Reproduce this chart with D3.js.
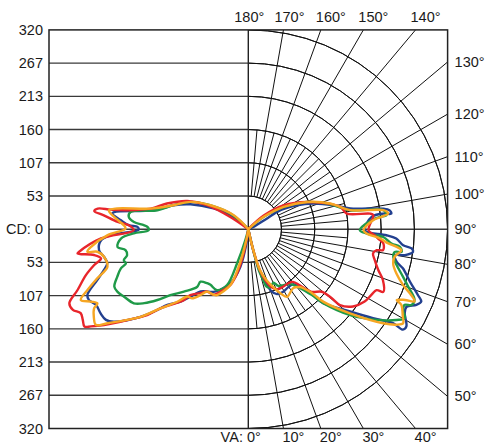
<!DOCTYPE html>
<html><head><meta charset="utf-8">
<script src="https://cdn.jsdelivr.net/npm/d3@7"></script>
<style>body{margin:0;background:#fff;} svg{display:block;}</style>
</head><body><svg id="c" width="485" height="446"></svg>
<script>
// ---------- data ----------
const cdMax = 320;
const cdTickLabels = ["53","107","160","213","267","320"];
const vaRightLabels = [130,120,110,100,90,80,70,60,50];
const vaTopLabels = [180,170,160,150,140];
const vaBottomLabels = [0,10,20,30,40];
const seriesColors = ["#23408f","#1f9a48","#e8252b","#f6a623"]; // blue, green, red, orange

// [vertical angle in degrees, candela] ; right half of the diagram
const blueRight = [[0,0],[13,35],[15,68],[17.8,89],[20.4,106],[23.8,114],[29.1,115],[34.6,113],[39,114],[41.9,125],[44.4,146],[45.4,169],[51,210],[54.5,246],[57,277],[57,296],[58.4,298],[61.8,285],[63.9,283],[65.8,296],[67.3,301],[68.8,292],[72,273],[75.8,256],[77.6,244],[80,239],[80.6,255],[82.2,267],[83.3,264],[84.1,250],[86.4,238],[87.5,222],[88.7,190],[90,187],[95.7,199],[96.6,218],[96.2,231],[97.6,229],[98.7,219],[101.5,167],[105.7,142],[111.5,112],[116.2,87],[120.7,60],[119.8,34],[113,9],[113,0]];
const greenRight = [[0,0],[13.4,35],[14.4,68],[16.4,85],[17.5,96],[20.6,100],[25.1,95],[27.8,103],[32.2,106],[37.4,111],[41.4,126],[44,147],[45.4,169],[49.9,214],[55.4,257],[58.5,279],[60.4,289],[62.5,280],[64.2,279],[65.1,289],[67,290],[70.2,273],[72.9,260],[76.4,245],[79.2,237],[81.2,238],[81.6,249],[83.4,245],[84.3,231],[86.7,217],[87.9,190],[89.5,179],[94.2,198],[95.3,212],[95.8,223],[98,219],[100.6,166],[107,137],[114.9,104],[122.3,67],[128.8,31],[130,0]];
const redRight = [[0,0],[13.4,35],[15.7,68],[18.4,86],[21.6,100],[25.8,107],[31.1,108],[36.5,108],[40.3,111],[42.6,123],[45.3,143],[49.6,155],[50.4,174],[50.4,191],[53.6,209],[58.1,220],[61.9,224],[64.6,228],[65.1,239],[69.3,231],[72.5,219],[76.3,209],[79,204],[80.7,209],[81.2,219],[84,218],[85.9,209],[87.3,203],[89.5,193],[96.4,202],[97.3,197],[99,160],[103.6,152],[114.9,104],[124.2,68],[131.4,33],[133,0]];
const orangeRight = [[0,0],[13.4,35],[15.9,68],[19.7,87],[23.3,101],[26.6,115],[29.8,125],[37.4,119],[41.9,125],[44.9,145],[46,168],[50.4,212],[55.1,264],[57.2,283],[58.7,291],[60.5,285],[63.7,274],[64.5,264],[65.7,276],[66.5,291],[68,282],[70.2,264],[73.4,248],[76.7,239],[79.3,239],[82.2,248],[83.2,240],[84.2,226],[86,212],[87.9,190],[89.5,185],[94.1,201],[95.3,215],[96.4,226],[98,219],[100.6,166],[107.4,138],[114.9,104],[122.3,67],[128.8,31],[135,0]];

// left half of the diagram
const blueLeft = [[0,0],[6.7,18],[12,62],[18.3,92],[24.7,107],[29,115],[37.4,126],[40.6,143],[43.1,159],[46.9,178],[48.4,195],[50.9,223],[55.5,262],[57.5,271],[60.3,273],[63.6,273],[66,280],[67.8,279],[71.4,256],[74.2,241],[76.4,233],[79.2,236],[82,242],[85.7,237],[87.5,221],[89.8,176],[91.2,178],[91.9,192],[94,205],[96.6,220],[97.3,217],[101.3,155],[107.8,126],[113.3,101],[120.8,65],[129.9,31],[135,0]];
const greenLeft = [[0,0],[15.3,18],[18.2,58],[20.8,96],[27.2,110],[34.2,108],[37.3,109],[42.3,114],[41.6,124],[45.9,144],[49.8,164],[52.1,185],[54.6,205],[57.1,219],[61.5,227],[64.5,233],[66.8,234],[70,224],[72.9,214],[74.4,204],[76,206],[77.9,199],[80.3,200],[82.3,212],[85.8,205],[87.9,184],[89.4,160],[91.3,162],[92.2,168],[93.6,184],[95.9,193],[98.3,191],[101.8,149],[107.8,126],[115.2,103],[121.2,77],[131.1,38],[135,0]];
const redLeft = [[0,0],[10.9,40],[14.3,73],[17.8,94],[24.1,110],[27.7,119],[33.4,120],[36.7,128],[41.3,141],[42.3,154],[45.7,174],[48,190],[49.7,213],[53.1,243],[56.4,278],[58.3,297],[59.3,306],[61.3,303],[63.4,301],[65.3,310],[67.5,311],[70.4,291],[74.2,271],[76.9,254],[78.8,241],[80.5,251],[81.9,277],[82.4,274],[86.4,237],[89.5,184],[91.9,192],[93.2,210],[95.5,233],[96.7,249],[97.8,244],[98.1,223],[98.9,197],[101.9,160],[107.5,137],[114.8,108],[120.2,77],[124.3,35],[130,0]];
const orangeLeft = [[0,0],[9.6,13],[14.4,62],[17.8,94],[25.4,117],[27.7,119],[33.4,120],[36,131],[39.1,143],[42.2,146],[44.4,163],[48,190],[50.9,223],[56.3,272],[57.9,289],[60.5,285],[62.9,278],[63.8,270],[65.3,278],[67.1,292],[69.3,276],[72,255],[75.1,234],[79.2,236],[81.5,245],[82,261],[83.6,254],[87.6,226],[90.3,197],[91.8,200],[95.2,216],[97.7,226],[99,213],[101.9,160],[107.8,126],[115.2,103],[122.3,72],[133.6,33],[138,0]];

const seriesRight = [blueRight, greenRight, redRight, orangeRight];
const seriesLeft = [blueLeft, greenLeft, redLeft, orangeLeft];

// ---------- drawing ----------
const cx = 248.3, cy = 229.2, R = 199.3;
const r = d3.scaleLinear().domain([0, cdMax]).range([0, R]);
const rad = d => d * Math.PI / 180;
const svg = d3.select("#c");
const font = "'Liberation Sans', Arial, sans-serif";
const gridStep = cdMax / 6;
const gridVals = d3.range(1, 7).map(i => i * gridStep);

svg.append("defs").append("clipPath").attr("id", "clipR")
  .append("rect").attr("x", cx).attr("y", cy - R).attr("width", R).attr("height", 2 * R);

const grid = svg.append("g");
// left horizontal lines
gridVals.slice(0, 5).forEach(v => {
  [-1, 1].forEach(s => {
    grid.append("line").attr("x1", cx - R).attr("x2", cx)
      .attr("y1", cy + s * r(v)).attr("y2", cy + s * r(v))
      .attr("stroke", "#3a3a3a").attr("stroke-width", 1.4);
  });
});
// CD 0 / 90° line
grid.append("line").attr("x1", cx - R).attr("x2", cx + R).attr("y1", cy).attr("y2", cy)
  .attr("stroke", "#3a3a3a").attr("stroke-width", 1.4);

// right polar grid
const gp = grid.append("g").attr("clip-path", "url(#clipR)");
const gc = gp.append("g").attr("transform", `translate(${cx},${cy})`);
gridVals.forEach(v => {
  gc.append("path")
    .attr("d", d3.arc().innerRadius(r(v)).outerRadius(r(v)).startAngle(0).endAngle(Math.PI)())
    .attr("fill", "none").attr("stroke", "#111").attr("stroke-width", 1);
});
d3.range(10, 180, 10).filter(a => a !== 90).forEach(a => {
  const r0 = r(gridStep), r1 = 2 * R;
  gc.append("line")
    .attr("x1", r0 * Math.sin(rad(a))).attr("y1", r0 * Math.cos(rad(a)))
    .attr("x2", r1 * Math.sin(rad(a))).attr("y2", r1 * Math.cos(rad(a)))
    .attr("stroke", "#111").attr("stroke-width", 1);
});
d3.range(5, 180, 10).forEach(a => {
  const r0 = r(gridStep), r1 = r(3 * gridStep);
  gc.append("line")
    .attr("x1", r0 * Math.sin(rad(a))).attr("y1", r0 * Math.cos(rad(a)))
    .attr("x2", r1 * Math.sin(rad(a))).attr("y2", r1 * Math.cos(rad(a)))
    .attr("stroke", "#111").attr("stroke-width", 1);
});

// center vertical line and box
grid.append("line").attr("x1", cx).attr("x2", cx).attr("y1", cy - R).attr("y2", cy + R)
  .attr("stroke", "#222").attr("stroke-width", 1.4);
grid.append("rect").attr("x", cx - R).attr("y", cy - R).attr("width", 2 * R).attr("height", 2 * R)
  .attr("fill", "none").attr("stroke", "#222").attr("stroke-width", 1.5);

// curves
const gl = svg.append("g").attr("transform", `translate(${cx},${cy})`);
const mkLine = side => d3.lineRadial()
  .angle(d => side * (Math.PI - rad(d[0])))
  .radius(d => r(d[1]))
  .curve(d3.curveCatmullRom.alpha(0.5));
seriesColors.forEach((col, i) => {
  [[seriesRight[i], 1], [seriesLeft[i], -1]].forEach(([data, side]) => {
    gl.append("path").attr("d", mkLine(side)(data))
      .attr("fill", "none").attr("stroke", col).attr("stroke-width", 2.4)
      .attr("stroke-linejoin", "round").attr("stroke-linecap", "round");
  });
});

// labels
const lab = svg.append("g").attr("font-family", font).attr("font-size", 14.5).attr("fill", "#1a1a1a");
gridVals.forEach((v, i) => {
  [-1, 1].forEach(s => {
    lab.append("text").attr("x", cx - R - 6).attr("y", cy + s * r(v))
      .attr("text-anchor", "end").attr("dominant-baseline", "central").text(cdTickLabels[i]);
  });
});
lab.append("text").attr("x", cx - R - 6).attr("y", cy).attr("text-anchor", "end")
  .attr("dominant-baseline", "central").text("CD: 0");

vaRightLabels.forEach(a => {
  const y = cy + R / Math.tan(rad(a));
  lab.append("text").attr("x", cx + R + 7).attr("y", Math.abs(a - 90) < 1e-6 ? cy : y)
    .attr("dominant-baseline", "central").text(a + "°");
});
vaTopLabels.forEach(a => {
  const x = cx + R * Math.tan(rad(180 - a));
  const off = a === 180 ? 1 : a === 170 ? 6 : 10;
  lab.append("text").attr("x", x + off).attr("y", cy - R - 8).attr("text-anchor", "middle").text(a + "°");
});
vaBottomLabels.forEach(a => {
  const x = cx + R * Math.tan(rad(a));
  if (a === 0) {
    lab.append("text").attr("x", x + 12.5).attr("y", cy + R + 13.8).attr("text-anchor", "end").text("VA: 0°");
  } else {
    lab.append("text").attr("x", x + 10).attr("y", cy + R + 13.8).attr("text-anchor", "middle").text(a + "°");
  }
});
</script></body></html>
